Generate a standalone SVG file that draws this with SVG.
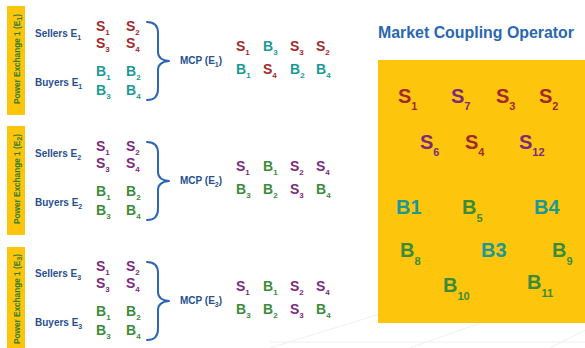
<svg xmlns="http://www.w3.org/2000/svg" width="585" height="348" viewBox="0 0 585 348">
  <style>
    text { font-family: "Liberation Sans", Arial, sans-serif; font-weight: bold; }
    .bar { fill: #fdc50c; }
    .pe { font-size: 9px; fill: #2f7d32; }
    .lab { font-size: 10px; fill: #27508f; }
    .sym { font-size: 14px; }
    .big { font-size: 20px; }
    .sub { font-size: 8px; }
    .subb { font-size: 11px; }
    .red { fill: #a2292b; }
    .teal { fill: #1c9895; }
    .pur { fill: #7b2a7d; }
    .grn { fill: #3c8b3a; }
    .brace { fill: none; stroke: #2f66b2; stroke-width: 2; stroke-linecap: round; stroke-linejoin: round; }
    .title { font-size: 16px; fill: #2a67b1; }
    .faint { stroke: #f0f0f0; stroke-width: 1; fill: none; }
  </style>
  <defs>
    <!-- curly brace grouping sellers and buyers of one exchange -->
    <path id="bracePath" d="M147,22 Q158,22 158,33 L158,52 Q158,60 169,61 Q158,62 158,70 L158,89 Q158,100 147,100"/>
  </defs>

  <rect width="585" height="348" fill="#ffffff"/>

  <!-- faint background strokes -->
  <g class="faint">
    <line x1="270" y1="348" x2="380" y2="314"/>
    <line x1="270" y1="342" x2="585" y2="342"/>
    <line x1="410" y1="348" x2="480" y2="323"/>
    <line x1="550" y1="348" x2="585" y2="330"/>
  </g>

  <!-- Exchange 1 -->
  <g id="exchange1">
    <rect class="bar" x="7" y="6" width="18" height="109"/>
    <text class="pe" transform="translate(19.5,104) rotate(-90)" textLength="90" lengthAdjust="spacingAndGlyphs">Power Exchange 1 (E<tspan class="sub" font-size="6" dy="2">1</tspan><tspan dy="-2">)</tspan></text>
    <text class="lab" x="35" y="37">Sellers E<tspan font-size="7" dy="3">1</tspan></text>
    <text class="lab" x="35" y="86">Buyers E<tspan font-size="7" dy="3">1</tspan></text>
    <g class="red sym">
      <text x="96" y="31">S<tspan class="sub" dy="4">1</tspan></text>
      <text x="126" y="31">S<tspan class="sub" dy="4">2</tspan></text>
      <text x="96" y="48">S<tspan class="sub" dy="4">3</tspan></text>
      <text x="126" y="48">S<tspan class="sub" dy="4">4</tspan></text>
    </g>
    <g class="teal sym">
      <text x="96" y="76">B<tspan class="sub" dy="4">1</tspan></text>
      <text x="126" y="76">B<tspan class="sub" dy="4">2</tspan></text>
      <text x="96" y="95">B<tspan class="sub" dy="4">3</tspan></text>
      <text x="126" y="95">B<tspan class="sub" dy="4">4</tspan></text>
    </g>
    <use href="#bracePath" class="brace"/>
    <text class="lab" x="180" y="64">MCP (E<tspan font-size="7" dy="3">1</tspan><tspan dy="-3">)</tspan></text>
    <g class="sym">
      <text class="red" x="236" y="51">S<tspan class="sub" dy="4">1</tspan></text>
      <text class="teal" x="263" y="51">B<tspan class="sub" dy="4">3</tspan></text>
      <text class="red" x="290" y="51">S<tspan class="sub" dy="4">3</tspan></text>
      <text class="red" x="316" y="51">S<tspan class="sub" dy="4">2</tspan></text>
      <text class="teal" x="236" y="74">B<tspan class="sub" dy="4">1</tspan></text>
      <text class="red" x="263" y="74">S<tspan class="sub" dy="4">4</tspan></text>
      <text class="teal" x="290" y="74">B<tspan class="sub" dy="4">2</tspan></text>
      <text class="teal" x="316" y="74">B<tspan class="sub" dy="4">4</tspan></text>
    </g>
  </g>

  <!-- Exchange 2 -->
  <g id="exchange2" transform="translate(0,120)">
    <rect class="bar" x="7" y="6" width="18" height="109"/>
    <text class="pe" transform="translate(19.5,104) rotate(-90)" textLength="90" lengthAdjust="spacingAndGlyphs">Power Exchange 1 (E<tspan class="sub" font-size="6" dy="2">2</tspan><tspan dy="-2">)</tspan></text>
    <text class="lab" x="35" y="37">Sellers E<tspan font-size="7" dy="3">2</tspan></text>
    <text class="lab" x="35" y="86">Buyers E<tspan font-size="7" dy="3">2</tspan></text>
    <g class="pur sym">
      <text x="96" y="31">S<tspan class="sub" dy="4">1</tspan></text>
      <text x="126" y="31">S<tspan class="sub" dy="4">2</tspan></text>
      <text x="96" y="48">S<tspan class="sub" dy="4">3</tspan></text>
      <text x="126" y="48">S<tspan class="sub" dy="4">4</tspan></text>
    </g>
    <g class="grn sym">
      <text x="96" y="76">B<tspan class="sub" dy="4">1</tspan></text>
      <text x="126" y="76">B<tspan class="sub" dy="4">2</tspan></text>
      <text x="96" y="95">B<tspan class="sub" dy="4">3</tspan></text>
      <text x="126" y="95">B<tspan class="sub" dy="4">4</tspan></text>
    </g>
    <use href="#bracePath" class="brace"/>
    <text class="lab" x="180" y="64">MCP (E<tspan font-size="7" dy="3">2</tspan><tspan dy="-3">)</tspan></text>
    <g class="sym">
      <text class="pur" x="236" y="51">S<tspan class="sub" dy="4">1</tspan></text>
      <text class="grn" x="263" y="51">B<tspan class="sub" dy="4">1</tspan></text>
      <text class="pur" x="290" y="51">S<tspan class="sub" dy="4">2</tspan></text>
      <text class="pur" x="316" y="51">S<tspan class="sub" dy="4">4</tspan></text>
      <text class="grn" x="236" y="74">B<tspan class="sub" dy="4">3</tspan></text>
      <text class="grn" x="263" y="74">B<tspan class="sub" dy="4">2</tspan></text>
      <text class="pur" x="290" y="74">S<tspan class="sub" dy="4">3</tspan></text>
      <text class="grn" x="316" y="74">B<tspan class="sub" dy="4">4</tspan></text>
    </g>
  </g>

  <!-- Exchange 3 -->
  <g id="exchange3" transform="translate(0,240)">
    <rect class="bar" x="7" y="7" width="18" height="101"/>
    <text class="pe" transform="translate(19.5,104) rotate(-90)" textLength="90" lengthAdjust="spacingAndGlyphs">Power Exchange 1 (E<tspan class="sub" font-size="6" dy="2">3</tspan><tspan dy="-2">)</tspan></text>
    <text class="lab" x="35" y="37">Sellers E<tspan font-size="7" dy="3">3</tspan></text>
    <text class="lab" x="35" y="86">Buyers E<tspan font-size="7" dy="3">3</tspan></text>
    <g class="pur sym">
      <text x="96" y="31">S<tspan class="sub" dy="4">1</tspan></text>
      <text x="126" y="31">S<tspan class="sub" dy="4">2</tspan></text>
      <text x="96" y="48">S<tspan class="sub" dy="4">3</tspan></text>
      <text x="126" y="48">S<tspan class="sub" dy="4">4</tspan></text>
    </g>
    <g class="grn sym">
      <text x="96" y="76">B<tspan class="sub" dy="4">1</tspan></text>
      <text x="126" y="76">B<tspan class="sub" dy="4">2</tspan></text>
      <text x="96" y="95">B<tspan class="sub" dy="4">3</tspan></text>
      <text x="126" y="95">B<tspan class="sub" dy="4">4</tspan></text>
    </g>
    <use href="#bracePath" class="brace"/>
    <text class="lab" x="180" y="64">MCP (E<tspan font-size="7" dy="3">3</tspan><tspan dy="-3">)</tspan></text>
    <g class="sym">
      <text class="pur" x="236" y="51">S<tspan class="sub" dy="4">1</tspan></text>
      <text class="grn" x="263" y="51">B<tspan class="sub" dy="4">1</tspan></text>
      <text class="pur" x="290" y="51">S<tspan class="sub" dy="4">2</tspan></text>
      <text class="pur" x="316" y="51">S<tspan class="sub" dy="4">4</tspan></text>
      <text class="grn" x="236" y="74">B<tspan class="sub" dy="4">3</tspan></text>
      <text class="grn" x="263" y="74">B<tspan class="sub" dy="4">2</tspan></text>
      <text class="pur" x="290" y="74">S<tspan class="sub" dy="4">3</tspan></text>
      <text class="grn" x="316" y="74">B<tspan class="sub" dy="4">4</tspan></text>
    </g>
  </g>

  <!-- Market coupling operator -->
  <g id="operator">
    <text class="title" x="378" y="38" textLength="196" lengthAdjust="spacingAndGlyphs">Market Coupling Operator</text>
    <rect class="bar" x="378" y="60" width="207" height="263"/>
    <g class="big">
      <text class="red" x="398" y="103">S<tspan class="subb" dy="7">1</tspan></text>
      <text class="pur" x="451" y="103">S<tspan class="subb" dy="7">7</tspan></text>
      <text class="red" x="496" y="103">S<tspan class="subb" dy="7">3</tspan></text>
      <text class="red" x="539" y="103">S<tspan class="subb" dy="7">2</tspan></text>
      <text class="pur" x="420" y="149">S<tspan class="subb" dy="7">6</tspan></text>
      <text class="red" x="465" y="149">S<tspan class="subb" dy="7">4</tspan></text>
      <text class="pur" x="519" y="149">S<tspan class="subb" dy="7">12</tspan></text>
      <text class="teal" x="396" y="214">B1</text>
      <text class="grn" x="462" y="214">B<tspan class="subb" dy="8">5</tspan></text>
      <text class="teal" x="534" y="214">B4</text>
      <text class="grn" x="400" y="257">B<tspan class="subb" dy="8">8</tspan></text>
      <text class="teal" x="481" y="257">B3</text>
      <text class="grn" x="552" y="257">B<tspan class="subb" dy="8">9</tspan></text>
      <text class="grn" x="443" y="292">B<tspan class="subb" dy="8">10</tspan></text>
      <text class="grn" x="527" y="289">B<tspan class="subb" dy="8">11</tspan></text>
    </g>
  </g>
</svg>
